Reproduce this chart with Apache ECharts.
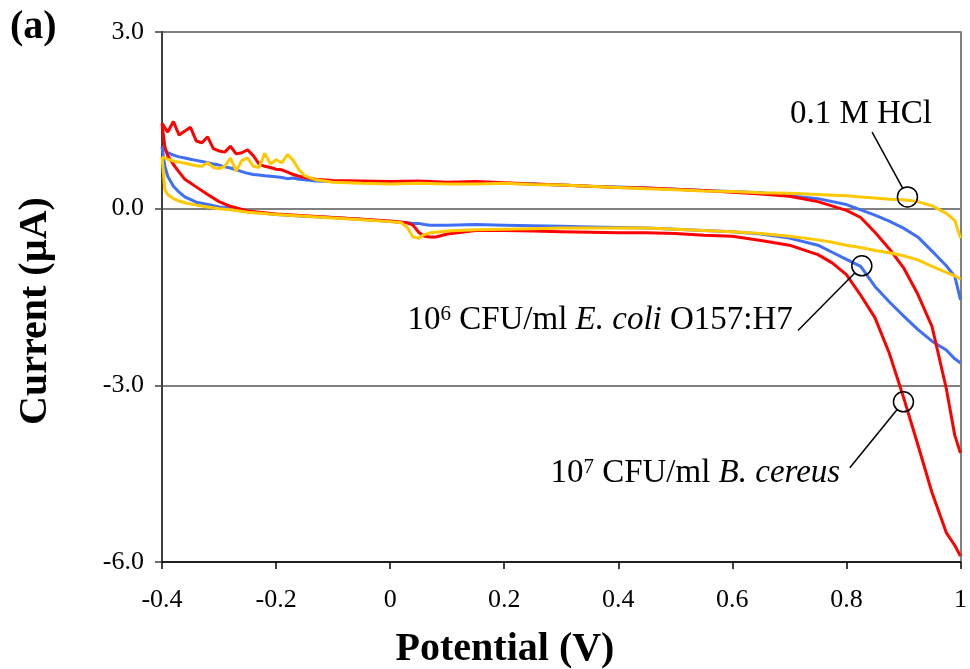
<!DOCTYPE html>
<html lang="en">
<head>
    <meta charset="UTF-8">
    <title>Cyclic voltammograms</title>
    <script src="https://cdn.jsdelivr.net/npm/echarts@6/dist/echarts.min.js"></script>
    <style>
        html, body { margin: 0; padding: 0; background: #fff; }
        #main { width: 970px; height: 669px; }
    </style>
</head>
<body>
<div id="main"></div>

<script type="text/javascript">
    // potentials of the forward sweep (-0.4 -> 1 V) and of the reverse sweep (1 -> -0.4 V)
    var fwdV = [-0.4, -0.39, -0.38, -0.37, -0.36, -0.35, -0.34, -0.33, -0.32, -0.31,
        -0.3, -0.29, -0.28, -0.27, -0.26, -0.25, -0.24, -0.23, -0.22, -0.21,
        -0.2, -0.19, -0.18, -0.17, -0.16, -0.15, -0.13, -0.1, -0.05,
        0, 0.05, 0.1, 0.15, 0.2, 0.25, 0.3, 0.35, 0.4, 0.45, 0.5, 0.55, 0.6, 0.65, 0.7, 0.75, 0.8,
        0.825, 0.85, 0.875, 0.9, 0.925, 0.95, 0.975, 0.99, 1.0];
    var revV = [1.0, 0.99, 0.975, 0.95, 0.925, 0.9, 0.875, 0.85, 0.825, 0.8, 0.775, 0.75,
        0.7, 0.65, 0.6, 0.55, 0.5, 0.45, 0.4, 0.35, 0.3, 0.25, 0.2, 0.15, 0.1,
        0.08, 0.07, 0.06, 0.05, 0.04, 0.03, 0.02,
        0, -0.05, -0.1, -0.15, -0.2, -0.25,
        -0.28, -0.3, -0.32, -0.34, -0.36, -0.37, -0.38, -0.39, -0.395, -0.4];

    // 10^7 CFU/ml B. cereus (red)
    var redFwd = [1.45, 1.30, 1.48, 1.25, 1.32, 1.38, 1.15, 1.12, 1.22, 1.02,
        0.98, 0.96, 1.06, 0.93, 0.95, 1.00, 0.90, 0.76, 0.72, 0.70,
        0.67, 0.66, 0.62, 0.58, 0.55, 0.53, 0.50, 0.48, 0.47,
        0.46, 0.47, 0.45, 0.46, 0.44, 0.42, 0.40, 0.38, 0.36, 0.35, 0.33, 0.31, 0.28, 0.25, 0.21, 0.12, -0.03,
        -0.15, -0.40, -0.68, -1.0, -1.45, -2.0, -3.05, -3.85, -4.15];
    var redRev = [-5.9, -5.72, -5.5, -4.82, -4.0, -3.2, -2.45, -1.85, -1.47, -1.12, -0.92, -0.78,
        -0.62, -0.54, -0.47, -0.45, -0.42, -0.41, -0.41, -0.40, -0.39, -0.38, -0.37, -0.37, -0.43,
        -0.48, -0.48, -0.47, -0.40, -0.28, -0.24, -0.23,
        -0.21, -0.18, -0.15, -0.12, -0.09, -0.04,
        0.04, 0.12, 0.24, 0.37, 0.50, 0.62, 0.75, 0.90, 1.05, 1.45];

    // 10^6 CFU/ml E. coli O157:H7 (blue)
    var blueFwd = [1.05, 0.95, 0.91, 0.88, 0.86, 0.84, 0.82, 0.80, 0.78, 0.76,
        0.74, 0.71, 0.69, 0.66, 0.63, 0.60, 0.58, 0.57, 0.56, 0.55,
        0.54, 0.53, 0.51, 0.52, 0.50, 0.49, 0.47, 0.46, 0.45,
        0.44, 0.45, 0.44, 0.44, 0.43, 0.42, 0.40, 0.38, 0.37, 0.35, 0.33, 0.31, 0.29, 0.27, 0.22, 0.17, 0.07,
        -0.02, -0.11, -0.21, -0.33, -0.48, -0.72, -0.97, -1.15, -1.55];
    var blueRev = [-2.62, -2.55, -2.40, -2.25, -2.05, -1.82, -1.58, -1.32, -0.98, -0.86, -0.74, -0.62,
        -0.50, -0.43, -0.39, -0.37, -0.35, -0.33, -0.32, -0.31, -0.30, -0.29, -0.28, -0.27, -0.28,
        -0.28, -0.28, -0.27, -0.25, -0.25, -0.24, -0.23,
        -0.22, -0.18, -0.15, -0.13, -0.10, -0.05,
        0.01, 0.03, 0.07, 0.11, 0.20, 0.28, 0.38, 0.55, 0.72, 1.05];

    // 0.1 M HCl (yellow)
    var yellowFwd = [0.88, 0.84, 0.81, 0.79, 0.77, 0.75, 0.73, 0.72, 0.78, 0.70,
        0.68, 0.72, 0.86, 0.64, 0.82, 0.86, 0.72, 0.70, 0.94, 0.76,
        0.83, 0.78, 0.92, 0.82, 0.66, 0.56, 0.49, 0.45, 0.43,
        0.42, 0.43, 0.42, 0.42, 0.43, 0.41, 0.40, 0.38, 0.36, 0.34, 0.32, 0.30, 0.29, 0.27, 0.26, 0.24, 0.22,
        0.20, 0.18, 0.16, 0.15, 0.12, 0.05, -0.08, -0.20, -0.50];
    var yellowRev = [-1.2, -1.14, -1.08, -0.98, -0.87, -0.80, -0.75, -0.71, -0.66, -0.62, -0.57, -0.53,
        -0.47, -0.42, -0.39, -0.37, -0.35, -0.33, -0.33, -0.33, -0.33, -0.34, -0.35, -0.36, -0.38,
        -0.40, -0.41, -0.44, -0.50, -0.48, -0.32, -0.24,
        -0.22, -0.19, -0.16, -0.13, -0.10, -0.06,
        -0.02, 0.0, 0.03, 0.06, 0.10, 0.13, 0.17, 0.24, 0.32, 0.88];

    var xTickLabels = ['-0.4', '-0.2', '0', '0.2', '0.4', '0.6', '0.8', '1'];
    var yTickLabels = ['-6.0', '-3.0', '0.0', '3.0'];

    // callouts: circle on the curve, start of the leader, text anchor (right edge, middle)
    var callouts = [
        {at: [0.907, 0.20], from: [0.845, 1.30], textAt: [0.950, 1.61],
            text: '0.1 M HCl'},
        {at: [0.827, -0.97], from: [0.715, -2.07], textAt: [0.706, -1.90],
            text: '10{sup|6} CFU/ml {it|E. coli} O157:H7'},
        {at: [0.900, -3.28], from: [0.806, -4.40], textAt: [0.789, -4.50],
            text: '10{sup|7} CFU/ml {it|B. cereus}'}
    ];

    var serif = '"Liberation Serif", "Times New Roman", serif';

    function zip(xs, ys) {
        return xs.map(function (x, i) { return [x, ys[i]]; });
    }

    function curve(name, xs, ys, color) {
        return {
            name: name,
            type: 'line',
            data: zip(xs, ys),
            showSymbol: false,
            symbol: 'none',
            animation: false,
            lineStyle: {color: color, width: 3},
            z: 3
        };
    }

    var chart = echarts.init(document.getElementById('main'));

    var option = {
        backgroundColor: '#fff',
        animation: false,
        grid: {left: 162, right: 4, top: 32, bottom: 107},
        xAxis: {
            type: 'value',
            min: -0.4, max: 1, interval: 0.2,
            axisLine: {onZero: false, lineStyle: {color: '#000', width: 1.5}},
            axisTick: {inside: false, length: 7, lineStyle: {color: '#000', width: 1.5}},
            splitLine: {show: false},
            axisLabel: {
                margin: 25, color: '#000', fontFamily: serif, fontSize: 26,
                formatter: function (v) {
                    return xTickLabels[Math.round((v + 0.4) / 0.2)];
                }
            }
        },
        yAxis: [{
            type: 'value',
            min: -6, max: 3, interval: 3,
            axisLine: {show: true, onZero: false, lineStyle: {color: '#404040', width: 2}},
            axisTick: {show: true, inside: false, length: 7, lineStyle: {color: '#404040', width: 1.5}},
            splitLine: {show: true, lineStyle: {color: '#808080', width: 2}},
            axisLabel: {
                margin: 18, color: '#000', fontFamily: serif, fontSize: 26,
                formatter: function (v) {
                    return yTickLabels[Math.round((v + 6) / 3)];
                }
            }
        }, {
            type: 'value',
            position: 'right',
            min: -6, max: 3, interval: 3,
            axisLine: {show: true, onZero: false, lineStyle: {color: '#808080', width: 2}},
            axisTick: {show: false},
            axisLabel: {show: false},
            splitLine: {show: false}
        }],
        series: [
            curve('E. coli fwd', fwdV, blueFwd, '#3f6ff5'),
            curve('E. coli rev', revV, blueRev, '#3f6ff5'),
            curve('B. cereus fwd', fwdV, redFwd, '#ff0000'),
            curve('B. cereus rev', revV, redRev, '#ff0000'),
            curve('HCl fwd', fwdV, yellowFwd, '#ffc800'),
            curve('HCl rev', revV, yellowRev, '#ffc800')
        ]
    };

    chart.setOption(option);

    // titles and callouts, placed after the axes exist
    var px = function (p) { return chart.convertToPixel({gridIndex: 0}, p); };
    var graphics = [
        {type: 'text', left: 10, top: 8, z: 10,
            style: {text: '(a)', font: 'bold 40px ' + serif, fill: '#000'}},
        {type: 'text', x: 36, y: 311, rotation: Math.PI / 2, z: 10,
            style: {text: 'Current (µA)', font: 'bold 40px ' + serif, fill: '#000',
                align: 'center', verticalAlign: 'middle'}},
        {type: 'text', x: 505, y: 650, z: 10,
            style: {text: 'Potential (V)', font: 'bold 40px ' + serif, fill: '#000',
                align: 'center', verticalAlign: 'middle'}}
    ];
    var r = 10;
    callouts.forEach(function (c) {
        var a = px(c.at), f = px(c.from), t = px(c.textAt);
        var dx = f[0] - a[0], dy = f[1] - a[1], d = Math.sqrt(dx * dx + dy * dy);
        graphics.push({type: 'circle', z: 10,
            shape: {cx: a[0], cy: a[1], r: r},
            style: {fill: null, stroke: '#000', lineWidth: 1.5}});
        graphics.push({type: 'line', z: 10,
            shape: {x1: f[0], y1: f[1], x2: a[0] + dx / d * r, y2: a[1] + dy / d * r},
            style: {stroke: '#000', lineWidth: 1.5}});
        graphics.push({type: 'text', x: t[0], y: t[1], z: 10,
            style: {
                text: c.text, fill: '#000', fontFamily: serif, fontSize: 33,
                align: 'right', verticalAlign: 'middle',
                rich: {
                    sup: {fontFamily: serif, fontSize: 21, verticalAlign: 'top', lineHeight: 30, fill: '#000'},
                    it: {fontFamily: serif, fontSize: 33, fontStyle: 'italic', fill: '#000'}
                }
            }});
    });
    chart.setOption({graphic: graphics});
</script>
</body>
</html>
